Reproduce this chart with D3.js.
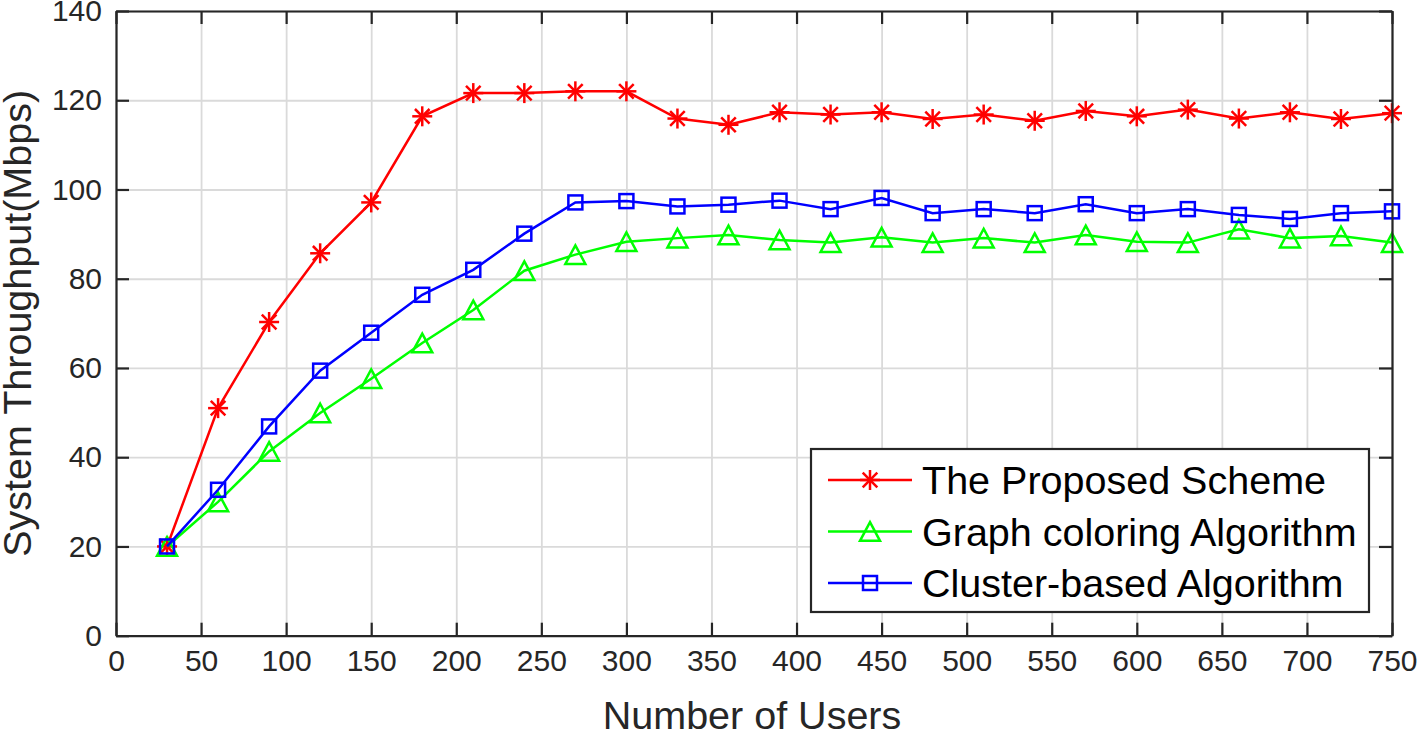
<!DOCTYPE html>
<html>
<head>
<meta charset="utf-8">
<script src="https://cdn.jsdelivr.net/npm/d3@7"></script>
<style>
  html, body { margin: 0; padding: 0; background: #fff; }
  svg { display: block; }
  text { font-family: "Liberation Sans", Arial, Helvetica, sans-serif; }
</style>
</head>
<body>
<svg id="chart" width="1418" height="733"></svg>
<script>
// ---- Data ----
const users = [30, 60, 90, 120, 150, 180, 210, 240, 270, 300, 330, 360, 390, 420, 450, 480, 510, 540, 570, 600, 630, 660, 690, 720, 750];
const proposed = [20, 51.0, 70.3, 85.7, 97.1, 116.4, 121.6, 121.6, 122.0, 122.0, 115.9, 114.5, 117.3, 116.8, 117.3, 115.8, 116.8, 115.4, 117.6, 116.4, 117.9, 115.9, 117.3, 115.8, 117.1];
const graphColoring = [20, 30.0, 41.3, 49.9, 57.6, 65.6, 73.0, 81.8, 85.4, 88.3, 89.1, 89.8, 88.7, 88.1, 89.3, 88.1, 89.1, 88.1, 89.8, 88.3, 88.1, 91.1, 89.1, 89.6, 88.1];
const clusterBased = [20, 32.7, 46.9, 59.4, 67.9, 76.4, 82.0, 90.1, 97.1, 97.4, 96.2, 96.6, 97.5, 95.6, 98.1, 94.7, 95.6, 94.7, 96.7, 94.7, 95.6, 94.3, 93.4, 94.7, 95.1];
const seriesNames = ["The Proposed Scheme", "Graph coloring Algorithm", "Cluster-based Algorithm"];
const seriesColors = ["#ff0000", "#00ff00", "#0000ff"];
const seriesMarkers = ["star", "triangle", "square"];
const xTicks = [0, 50, 100, 150, 200, 250, 300, 350, 400, 450, 500, 550, 600, 650, 700, 750];
const yTicks = [0, 20, 40, 60, 80, 100, 120, 140];
const xLabel = "Number of Users";
const yLabel = "System Throughput(Mbps)";

// ---- Layout ----
const L = 116, R = 1392, T = 11, B = 635.7;
const svg = d3.select("#chart");
const x = d3.scaleLinear().domain([0, 750]).range([L, R]);
const y = d3.scaleLinear().domain([0, 140]).range([B, T]);
const axisColor = "#262626";

// grid
const grid = svg.append("g");
grid.append("g").attr("transform", `translate(0,${B})`)
  .call(d3.axisBottom(x).tickValues(xTicks).tickSize(-(B - T)).tickFormat(""))
  .call(g => g.select(".domain").remove())
  .call(g => g.selectAll("line").attr("stroke", "#dadada").attr("stroke-width", 1.8));
grid.append("g").attr("transform", `translate(${L},0)`)
  .call(d3.axisLeft(y).tickValues(yTicks).tickSize(-(R - L)).tickFormat(""))
  .call(g => g.select(".domain").remove())
  .call(g => g.selectAll("line").attr("stroke", "#dadada").attr("stroke-width", 1.8));

// series
const data = [proposed, graphColoring, clusterBased];
const line = d3.line().x((d, i) => x(users[i])).y(d => y(d));

function drawMarker(g, type, color) {
  if (type === "star") {
    const s = 10, d = 7.3;
    g.append("line").attr("x1", 0).attr("y1", -s).attr("x2", 0).attr("y2", s);
    g.append("line").attr("x1", -s).attr("y1", 0).attr("x2", s).attr("y2", 0);
    g.append("line").attr("x1", -d).attr("y1", -d).attr("x2", d).attr("y2", d);
    g.append("line").attr("x1", -d).attr("y1", d).attr("x2", d).attr("y2", -d);
    g.selectAll("line").attr("stroke", color).attr("stroke-width", 2.5);
  } else if (type === "triangle") {
    const w = 10, h = 9.3;
    g.append("path").attr("d", `M0,${-h}L${w},${h}L${-w},${h}Z`)
      .attr("fill", "none").attr("stroke", color).attr("stroke-width", 2.5);
  } else {
    const s = 7;
    g.append("rect").attr("x", -s).attr("y", -s).attr("width", 2 * s).attr("height", 2 * s)
      .attr("fill", "none").attr("stroke", color).attr("stroke-width", 2.5);
  }
}

data.forEach((vals, k) => {
  const g = svg.append("g");
  g.append("path").datum(vals).attr("d", line)
    .attr("fill", "none").attr("stroke", seriesColors[k]).attr("stroke-width", 2.5);
  vals.forEach((v, i) => {
    const m = g.append("g").attr("transform", `translate(${x(users[i])},${y(v)})`);
    drawMarker(m, seriesMarkers[k], seriesColors[k]);
  });
});

// axes (box with inward ticks on all sides)
const tickLen = 13;
function styleAxis(g) {
  g.selectAll(".domain").attr("stroke", axisColor).attr("stroke-width", 2.2);
  g.selectAll(".tick line").attr("stroke", axisColor).attr("stroke-width", 2.2);
  g.selectAll("text").attr("fill", axisColor).style("font-size", "30px")
    .style("font-family", '"Liberation Sans", Arial, sans-serif');
}
svg.append("g").attr("transform", `translate(0,${B})`)
  .call(d3.axisBottom(x).tickValues(xTicks).tickSizeInner(-tickLen).tickSizeOuter(0).tickPadding(14))
  .call(styleAxis);
svg.append("g").attr("transform", `translate(0,${T})`)
  .call(d3.axisTop(x).tickValues(xTicks).tickSizeInner(-tickLen).tickSizeOuter(0).tickFormat(""))
  .call(styleAxis);
svg.append("g").attr("transform", `translate(${L},0)`)
  .call(d3.axisLeft(y).tickValues(yTicks).tickSizeInner(-tickLen).tickSizeOuter(0).tickPadding(14))
  .call(styleAxis);
svg.append("g").attr("transform", `translate(${R},0)`)
  .call(d3.axisRight(y).tickValues(yTicks).tickSizeInner(-tickLen).tickSizeOuter(0).tickFormat(""))
  .call(styleAxis);

// axis labels
svg.append("text").attr("x", (L + R) / 2 - 2).attr("y", 729)
  .attr("text-anchor", "middle").attr("fill", axisColor)
  .style("font-size", "39.5px").text(xLabel);
svg.append("text").attr("transform", `translate(31,${(T + B) / 2}) rotate(-90)`)
  .attr("text-anchor", "middle").attr("fill", axisColor)
  .style("font-size", "39.5px").text(yLabel);

// legend
const lg = svg.append("g");
lg.append("rect").attr("x", 811).attr("y", 449).attr("width", 558).attr("height", 163)
  .attr("fill", "#fff").attr("stroke", axisColor).attr("stroke-width", 2.2);
const rowY = [480, 531.5, 583];
seriesNames.forEach((name, k) => {
  const r = lg.append("g");
  r.append("line").attr("x1", 828).attr("x2", 912).attr("y1", rowY[k]).attr("y2", rowY[k])
    .attr("stroke", seriesColors[k]).attr("stroke-width", 2.5);
  const m = r.append("g").attr("transform", `translate(870,${rowY[k]})`);
  drawMarker(m, seriesMarkers[k], seriesColors[k]);
  r.append("text").attr("x", 922).attr("y", rowY[k]).attr("dy", "0.36em")
    .attr("fill", "#000").style("font-size", "39.5px").text(name);
});
</script>
</body>
</html>
